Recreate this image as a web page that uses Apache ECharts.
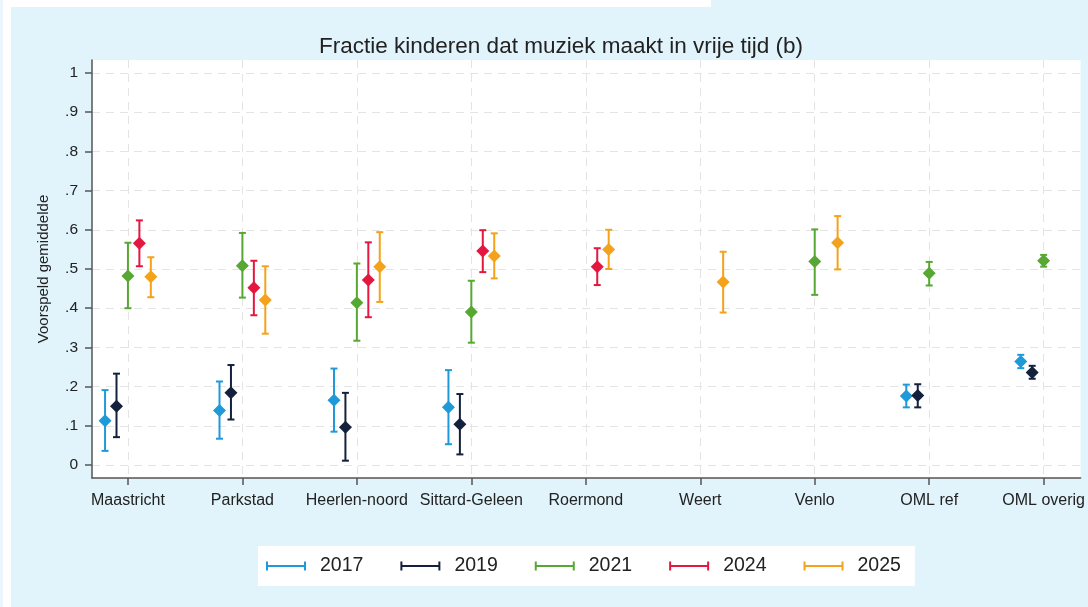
<!DOCTYPE html>
<html><head><meta charset="utf-8">
<script src="https://cdn.jsdelivr.net/npm/echarts@6/dist/echarts.min.js"></script>
<style>html,body{margin:0;padding:0;background:#e1f3fb}#c{width:1088px;height:607px}</style>
</head><body><div id="c"></div>
<script>
const categories = ['Maastricht','Parkstad','Heerlen-noord','Sittard-Geleen','Roermond','Weert','Venlo','OML ref','OML overig'];
const years = ['2017','2019','2021','2024','2025'];
const yTicks = [0,0.1,0.2,0.3,0.4,0.5,0.6,0.7,0.8,0.9,1];

const mean2017 = [0.113,0.139,0.165,0.147,null,null,null,0.176,0.264];
const lo2017   = [0.036,0.067,0.085,0.053,null,null,null,0.147,0.247];
const hi2017   = [0.191,0.213,0.246,0.242,null,null,null,0.205,0.281];

const mean2019 = [0.150,0.184,0.096,0.104,null,null,null,0.177,0.236];
const lo2019   = [0.071,0.116,0.011,0.027,null,null,null,0.147,0.220];
const hi2019   = [0.233,0.255,0.184,0.181,null,null,null,0.206,0.253];

const mean2021 = [0.482,0.508,0.414,0.390,null,null,0.519,0.489,0.521];
const lo2021   = [0.400,0.427,0.317,0.312,null,null,0.434,0.458,0.506];
const hi2021   = [0.567,0.592,0.514,0.470,null,null,0.601,0.518,0.536];

const mean2024 = [0.566,0.452,0.472,0.546,0.506,null,null,null,null];
const lo2024   = [0.507,0.382,0.377,0.492,0.459,null,null,null,null];
const hi2024   = [0.624,0.521,0.568,0.599,0.553,null,null,null,null];

const mean2025 = [0.480,0.421,0.506,0.533,0.550,0.467,0.567,null,null];
const lo2025   = [0.428,0.335,0.416,0.476,0.500,0.389,0.499,null,null];
const hi2025   = [0.530,0.507,0.594,0.591,0.600,0.544,0.635,null,null];

const seriesData = {
  '2017': [mean2017, lo2017, hi2017],
  '2019': [mean2019, lo2019, hi2019],
  '2021': [mean2021, lo2021, hi2021],
  '2024': [mean2024, lo2024, hi2024],
  '2025': [mean2025, lo2025, hi2025]
};
const colors = ['#1f9ad8','#14213d','#57a832','#e3173f','#f4a21a'];

function renderItem(params, api) {
  const x = api.value(0), m = api.value(1), lo = api.value(2), hi = api.value(3);
  const pm = api.coord([x, m]), pl = api.coord([x, lo]), ph = api.coord([x, hi]);
  const color = api.visual('color');
  const cw = 3.5, d = 6.5;
  return {type:'group', children:[
    {type:'line', shape:{x1:pl[0],y1:pl[1],x2:ph[0],y2:ph[1]}, style:{stroke:color,lineWidth:2}},
    {type:'line', shape:{x1:pl[0]-cw,y1:pl[1],x2:pl[0]+cw,y2:pl[1]}, style:{stroke:color,lineWidth:2}},
    {type:'line', shape:{x1:ph[0]-cw,y1:ph[1],x2:ph[0]+cw,y2:ph[1]}, style:{stroke:color,lineWidth:2}},
    {type:'polygon', shape:{points:[[pm[0],pm[1]-d],[pm[0]+d,pm[1]],[pm[0],pm[1]+d],[pm[0]-d,pm[1]]]}, style:{fill:color}}
  ]};
}

const series = years.map((yr, k) => {
  const [mm, ll, hh] = seriesData[yr];
  const data = [];
  mm.forEach((v, i) => { if (v !== null) data.push([i + (k - 2) * 0.1, v, ll[i], hh[i]]); });
  return {
    name: yr, type: 'custom', renderItem, data,
    itemStyle: {color: colors[k]},
    encode: {x: 0, y: [1, 2, 3]},
    clip: false, z: 2 + k
  };
});

const chart = echarts.init(document.getElementById('c'), null, {renderer:'canvas'});
const FONT = '"Liberation Sans", Arial, sans-serif';
chart.setOption({
  backgroundColor: '#e1f3fb',
  animation: false,
  graphic: [
    {type:'rect', left:0, top:0, shape:{width:711, height:7}, style:{fill:'#ffffff'}, silent:true},
    {type:'rect', left:0, top:0, shape:{width:3, height:607}, style:{fill:'#eaf6fc'}, silent:true},
    {type:'rect', left:3, top:0, shape:{width:8, height:607}, style:{fill:'#ffffff'}, silent:true}
  ],
  title: {
    text: 'Fractie kinderen dat muziek maakt in vrije tijd (b)',
    left: 556, top: 30, textAlign: 'center',
    textStyle: {fontFamily: FONT, fontSize: 22.5, fontWeight: 'normal', color: '#222'}
  },
  legend: {
    data: years,
    left: 258, top: 546,
    backgroundColor: '#ffffff',
    padding: [10, 14, 10, 8],
    itemWidth: 44, itemHeight: 9, itemGap: 37,
    icon: 'path://M0,3.5H40V5.5H0Z M0,0H2V9H0Z M38,0H40V9H38Z',
    textStyle: {fontFamily: FONT, fontSize: 19.5, color: '#222', padding: [0,0,0,7]}
  },
  grid: {left: 92, right: 6, top: 60, bottom: 129, show: true, backgroundColor: '#ffffff', borderWidth: 0},
  xAxis: {
    type: 'value', min: -0.314, max: 8.323,
    axisLine: {show: true, onZero: false, lineStyle: {color: '#555', width: 1.5}},
    axisTick: {show: true, length: 7, lineStyle: {color: '#555', width: 1.5}, customValues: categories.map((c, i) => i)},
    axisLabel: {customValues: categories.map((c, i) => i), formatter: v => categories[Math.round(v)], fontFamily: FONT, fontSize: 16, color: '#222', margin: 15},
    splitLine: {show: true, lineStyle: {color: '#e4e4e4', type: [8, 6], width: 1}}
  },
  yAxis: {
    type: 'value', min: -0.0332, max: 1.0332,
    name: 'Voorspeld gemiddelde', nameLocation: 'middle', nameGap: 41,
    nameTextStyle: {fontFamily: FONT, fontSize: 15, color: '#222'},
    axisLine: {show: true, onZero: false, lineStyle: {color: '#555', width: 1.5}},
    axisTick: {show: true, length: 7, lineStyle: {color: '#555', width: 1.5}, customValues: yTicks},
    axisLabel: {customValues: yTicks, formatter: v => v === 0 ? '0' : (Math.abs(v-1) < 1e-9 ? '1' : '.' + Math.round(v*10)), fontFamily: FONT, fontSize: 15.5, color: '#222', margin: 14},
    splitLine: {show: true, lineStyle: {color: '#e4e4e4', type: [8, 6], width: 1}}
  },
  series
});
</script></body></html>
